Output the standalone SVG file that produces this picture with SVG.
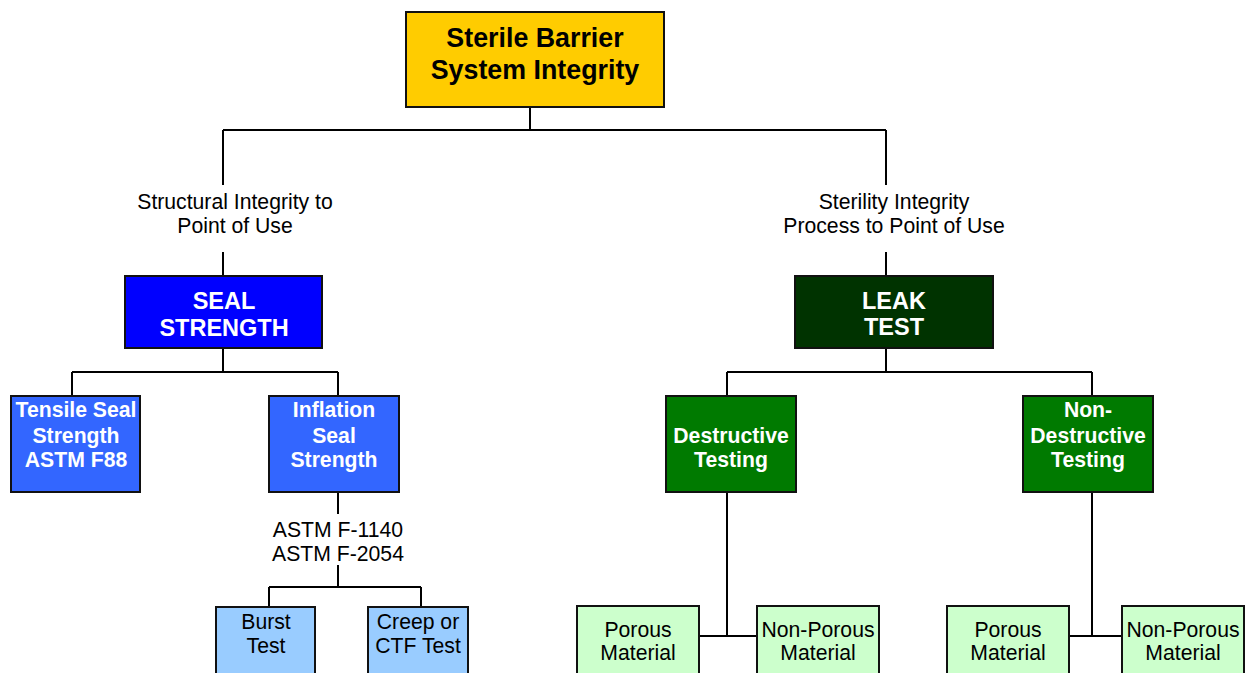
<svg xmlns="http://www.w3.org/2000/svg" width="1248" height="673" viewBox="0 0 1248 673">
  <style>
    .box { stroke: #111; stroke-width: 2; }
    .link { stroke: #000; stroke-width: 2; fill: none; }
    text { font-family: "Liberation Sans", Arial, sans-serif; text-anchor: middle; }
    .title { font-size: 26.8px; font-weight: bold; fill: #000; }
    .head { font-size: 23.5px; font-weight: bold; fill: #fff; }
    .sub { font-size: 21.2px; font-weight: bold; fill: #fff; }
    .plain { font-size: 21.2px; fill: #000; }
  </style>
  <rect width="1248" height="673" fill="#fff"/>

  <!-- connectors -->
  <g id="connectors">
    <path class="link" d="M530 107 V130 M223 130 H886 M223 130 V185 M886 130 V185"/>
    <path class="link" d="M223 252 V276 M886 252 V276"/>
    <path class="link" d="M223 348 V372 M72 372 H338 M72 372 V396 M338 372 V396"/>
    <path class="link" d="M338 492 V514 M338 565 V587 M269 587 H421 M269 587 V607 M421 587 V607"/>
    <path class="link" d="M886 348 V372 M727 372 H1092 M727 372 V396 M1092 372 V396"/>
    <path class="link" d="M727 492 V636 M699 636 H757"/>
    <path class="link" d="M1092 492 V636 M1069 636 H1122"/>
  </g>

  <!-- edge labels -->
  <g id="label-structural">
    <text class="plain" x="235" y="209">Structural Integrity to</text>
    <text class="plain" x="235" y="233">Point of Use</text>
  </g>
  <g id="label-sterility">
    <text class="plain" x="894" y="209">Sterility Integrity</text>
    <text class="plain" x="894" y="233">Process to Point of Use</text>
  </g>
  <g id="label-astm">
    <text class="plain" x="338" y="537">ASTM F-1140</text>
    <text class="plain" x="338" y="561">ASTM F-2054</text>
  </g>

  <!-- nodes -->
  <g id="sbs-integrity">
    <rect class="box" x="406" y="12" width="258" height="95" fill="#FFCC00"/>
    <text class="title" x="535" y="47">Sterile Barrier</text>
    <text class="title" x="535" y="79">System Integrity</text>
  </g>

  <g id="seal-strength">
    <rect class="box" x="125" y="276" width="197" height="72" fill="#0000FF"/>
    <text class="head" x="224" y="309">SEAL</text>
    <text class="head" x="224" y="336">STRENGTH</text>
  </g>

  <g id="leak-test">
    <rect class="box" x="795" y="276" width="198" height="72" fill="#003300"/>
    <text class="head" x="894" y="309">LEAK</text>
    <text class="head" x="894" y="335">TEST</text>
  </g>

  <g id="tensile">
    <rect class="box" x="11" y="396" width="129" height="96" fill="#3366FF"/>
    <text class="sub" x="76" y="417">Tensile Seal</text>
    <text class="sub" x="76" y="443">Strength</text>
    <text class="sub" x="76" y="467">ASTM F88</text>
  </g>

  <g id="inflation">
    <rect class="box" x="269" y="396" width="130" height="96" fill="#3366FF"/>
    <text class="sub" x="334" y="417">Inflation</text>
    <text class="sub" x="334" y="443">Seal</text>
    <text class="sub" x="334" y="467">Strength</text>
  </g>

  <g id="burst">
    <rect class="box" x="216" y="607" width="99" height="80" fill="#99CCFF"/>
    <text class="plain" x="266" y="629">Burst</text>
    <text class="plain" x="266" y="653">Test</text>
  </g>

  <g id="creep">
    <rect class="box" x="368" y="607" width="100" height="80" fill="#99CCFF"/>
    <text class="plain" x="418" y="629">Creep or</text>
    <text class="plain" x="418" y="653">CTF Test</text>
  </g>

  <g id="destructive">
    <rect class="box" x="666" y="396" width="130" height="96" fill="#007A00"/>
    <text class="sub" x="731" y="443">Destructive</text>
    <text class="sub" x="731" y="467">Testing</text>
  </g>

  <g id="non-destructive">
    <rect class="box" x="1023" y="396" width="130" height="96" fill="#007A00"/>
    <text class="sub" x="1088" y="417">Non-</text>
    <text class="sub" x="1088" y="443">Destructive</text>
    <text class="sub" x="1088" y="467">Testing</text>
  </g>

  <g id="d-porous">
    <rect class="box" x="577" y="606" width="122" height="80" fill="#CCFFCC"/>
    <text class="plain" x="638" y="637">Porous</text>
    <text class="plain" x="638" y="660">Material</text>
  </g>

  <g id="d-nonporous">
    <rect class="box" x="757" y="606" width="122" height="80" fill="#CCFFCC"/>
    <text class="plain" x="818" y="637">Non-Porous</text>
    <text class="plain" x="818" y="660">Material</text>
  </g>

  <g id="nd-porous">
    <rect class="box" x="947" y="606" width="122" height="80" fill="#CCFFCC"/>
    <text class="plain" x="1008" y="637">Porous</text>
    <text class="plain" x="1008" y="660">Material</text>
  </g>

  <g id="nd-nonporous">
    <rect class="box" x="1122" y="606" width="122" height="80" fill="#CCFFCC"/>
    <text class="plain" x="1183" y="637">Non-Porous</text>
    <text class="plain" x="1183" y="660">Material</text>
  </g>
</svg>
